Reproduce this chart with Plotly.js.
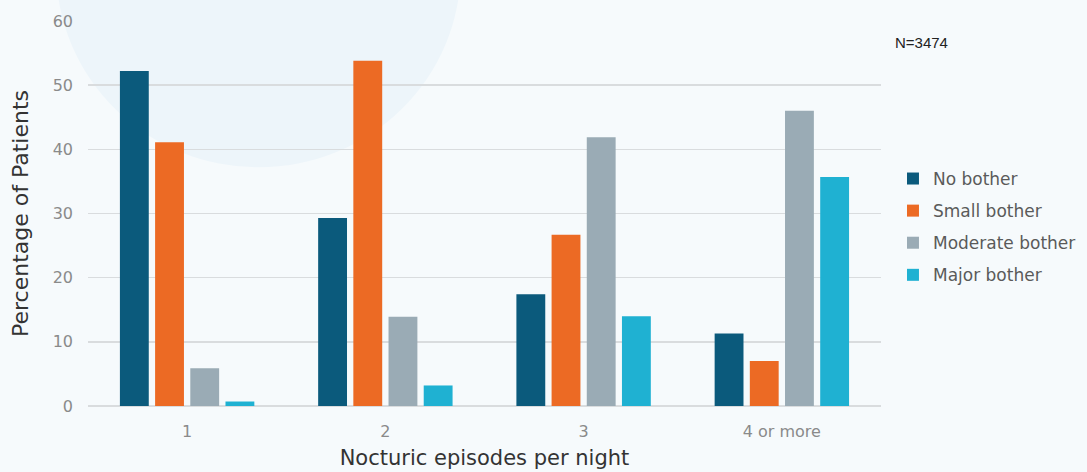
<!DOCTYPE html>
<html>
<head>
<meta charset="utf-8">
<script src="https://cdn.plot.ly/plotly-3.0.1.min.js"></script>
<style>
  html, body { margin: 0; padding: 0; background: #f6fafc; }
  #chart { width: 1087px; height: 472px; }
</style>
</head>
<body>
<div id="chart"></div>
<script>
// Nocturia episodes per night vs. how bothersome patients find them
const categories = ['1', '2', '3', '4 or more'];
const seriesNames = ['No bother', 'Small bother', 'Moderate bother', 'Major bother'];
const noBother = [52.2, 29.3, 17.4, 11.3];
const smallBother = [41.1, 53.8, 26.7, 7.0];
const moderateBother = [5.9, 13.9, 41.9, 46.0];
const majorBother = [0.7, 3.2, 14.0, 35.7];
const colors = ['#0b5a7c', '#ec6a24', '#9aabb5', '#1fb1d2'];

const values = [noBother, smallBother, moderateBother, majorBother];
const traces = values.map((v, i) => ({
  type: 'bar',
  name: seriesNames[i],
  legendgroup: 'g' + i,
  x: categories,
  y: v,
  marker: { color: colors[i] },
  hoverinfo: 'x+y+name'
}));

const tickFont = { family: 'DejaVu Sans, sans-serif', size: 16, color: '#8a8a8a' };

const layout = {
  width: 1087,
  height: 472,
  margin: { l: 88, r: 204, t: 20, b: 66 },
  paper_bgcolor: '#f6fafc',
  plot_bgcolor: 'rgba(0,0,0,0)',
  barmode: 'group',
  bargap: 0.29,
  bargroupgap: 0.18,
  showlegend: true,
  legend: {
    xref: 'container', x: 0.8215, xanchor: 'left',
    yref: 'paper', y: 0.465, yanchor: 'middle',
    font: { family: 'DejaVu Sans, sans-serif', size: 17, color: '#5a5a5a' },
    tracegroupgap: 7,
    itemwidth: 30,
    bgcolor: 'rgba(0,0,0,0)'
  },
  xaxis: {
    type: 'category',
    showgrid: false,
    showline: false,
    ticks: '',
    tickfont: tickFont,
    ticklabelstandoff: 14,
    title: {
      text: 'Nocturic episodes per night',
      font: { family: 'DejaVu Sans, sans-serif', size: 21, color: '#333333' },
      standoff: 10
    }
  },
  yaxis: {
    range: [0, 60],
    dtick: 10,
    automargin: true,
    showgrid: true,
    gridcolor: '#d9dcde',
    gridwidth: 1.5,
    zeroline: true,
    zerolinecolor: '#d9dcde',
    zerolinewidth: 1.5,
    ticks: '',
    tickfont: tickFont,
    ticklabelstandoff: 14,
    title: {
      text: 'Percentage of Patients',
      font: { family: 'DejaVu Sans, sans-serif', size: 22, color: '#333333' },
      standoff: 17
    }
  },
  shapes: [
    {
      type: 'circle', xref: 'paper', yref: 'paper', layer: 'below',
      x0: -0.04, x1: 0.47, y0: 0.62, y1: 1.65,
      fillcolor: '#edf5fa', line: { width: 0 }
    }
  ],
  annotations: [
    {
      text: 'N=3474', xref: 'paper', yref: 'paper',
      x: 1.015, xanchor: 'left', y: 0.945, yanchor: 'middle',
      showarrow: false,
      font: { family: 'Liberation Sans, Arial, sans-serif', size: 15, color: '#222222' }
    }
  ]
};

Plotly.newPlot('chart', traces, layout, { displayModeBar: false, staticPlot: true });
</script>
</body>
</html>
